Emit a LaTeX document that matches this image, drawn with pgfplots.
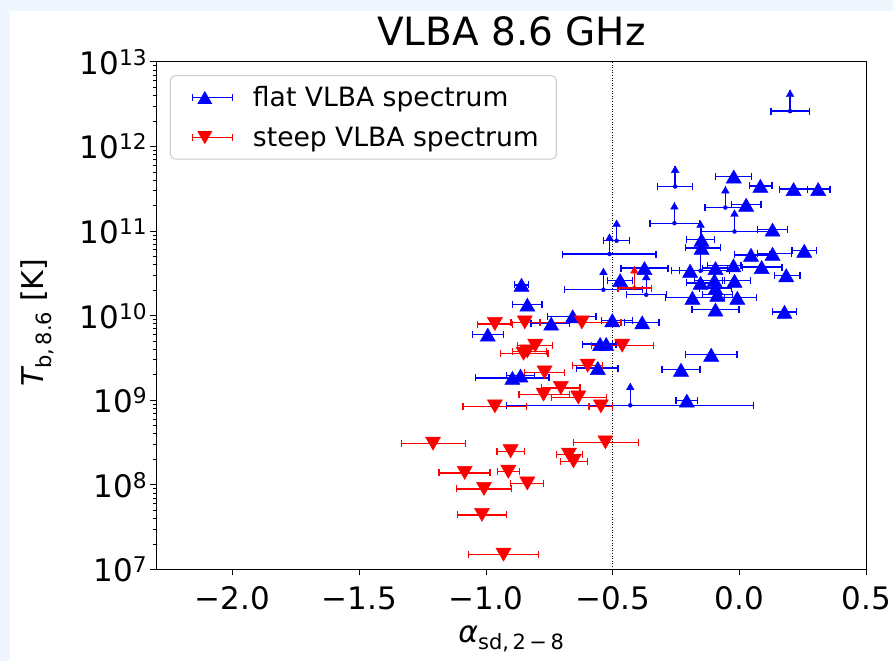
\documentclass[border=0pt]{standalone}
\usepackage{fontspec}
\setmainfont{DejaVu Sans}
\usepackage{pgfplots}
\usepackage{pgfplotstable}
\pgfplotsset{compat=1.18}
\definecolor{bgblue}{RGB}{239,246,253}
\definecolor{legframe}{RGB}{204,204,204}
\definecolor{eblue}{RGB}{0,0,255}
\definecolor{ered}{RGB}{255,0,0}

% flat VLBA spectrum: x, Tb, x-error minus, x-error plus
\pgfplotstableread{
x y m p
-0.023 4.42e11 0.072 0.070
0.082 3.43e11 0.043 0.046
0.213 3.14e11 0.056 0.054
0.310 3.14e11 0.043 0.046
0.026 2.05e11 0.059 0.059
0.130 1.04e11 0.060 0.058
-0.150 7.90e10 0.059 0.051
-0.150 6.35e10 0.063 0.075
0.045 5.25e10 0.066 0.072
0.130 5.40e10 0.060 0.074
0.255 5.86e10 0.048 0.048
-0.375 3.66e10 0.092 0.092
-0.195 3.40e10 0.074 0.084
-0.095 3.66e10 0.051 0.047
-0.024 3.93e10 0.102 0.030
0.087 3.76e10 0.076 0.080
0.184 3.01e10 0.047 0.054
-0.154 2.45e10 0.055 0.055
-0.099 2.63e10 0.079 0.039
-0.020 2.59e10 0.047 0.063
-0.095 2.12e10 0.063 0.063
-0.186 1.63e10 0.106 0.126
-0.088 1.77e10 0.059 0.059
-0.009 1.63e10 0.051 0.075
-0.095 1.18e10 0.092 0.092
0.177 1.11e10 0.047 0.048
-0.384 8.34e9 0.070 0.066
-0.502 8.85e9 0.043 0.080
-0.658 9.82e9 0.099 0.092
-0.743 8.05e9 0.079 0.072
-0.837 1.35e10 0.059 0.058
-0.860 2.32e10 0.028 0.028
-0.993 5.97e9 0.061 0.062
-0.550 4.63e9 0.069 0.063
-0.526 4.63e9 0.025 0.025
-0.559 2.41e9 0.083 0.080
-0.896 1.84e9 0.145 0.144
-0.864 1.96e9 0.056 0.055
-0.112 3.46e9 0.102 0.102
-0.231 2.30e9 0.075 0.075
-0.208 9.91e8 0.042 0.041
-0.471 2.63e10 0.050 0.048
}\flat

% flat spectrum lower limits (base point)
\pgfplotstableread{
x y m p
0.199 2.62e12 0.075 0.076
-0.254 3.37e11 0.070 0.068
-0.056 1.90e11 0.080 0.082
-0.257 1.24e11 0.096 0.099
-0.020 9.90e10 0.131 0.138
-0.485 7.69e10 0.051 0.051
-0.513 5.36e10 0.186 0.184
-0.154 3.40e10 0.083 0.114
-0.537 2.03e10 0.154 0.154
-0.368 1.77e10 0.079 0.079
-0.431 8.73e8 0.489 0.487
}\flatlim

% arrows of the lower limits: base and tip
\pgfplotstableread{
x y
0.199 2.62e12
0.199 4.67e12
nan nan
-0.254 3.37e11
-0.254 5.91e11
nan nan
-0.056 1.90e11
-0.056 3.37e11
nan nan
-0.257 1.24e11
-0.257 2.18e11
nan nan
-0.020 9.90e10
-0.020 1.79e11
nan nan
-0.485 7.69e10
-0.485 1.36e11
nan nan
-0.513 5.36e10
-0.513 9.30e10
nan nan
-0.154 3.40e10
-0.154 1.33e11
nan nan
-0.537 2.03e10
-0.537 3.66e10
nan nan
-0.368 1.77e10
-0.368 3.19e10
nan nan
-0.431 8.73e8
-0.431 1.60e9
}\flatarrow

\pgfplotstableread{
x y
0.199 4.67e12
-0.254 5.91e11
-0.056 3.37e11
-0.257 2.18e11
-0.020 1.79e11
-0.485 1.36e11
-0.513 9.30e10
-0.154 1.33e11
-0.537 3.66e10
-0.368 3.19e10
-0.431 1.60e9
}\flattip

% steep VLBA spectrum
\pgfplotstableread{
x y m p
-0.965 7.98e9 0.069 0.069
-0.847 8.34e9 0.054 0.061
-0.622 8.34e9 0.167 0.155
-0.806 4.43e9 0.069 0.069
-0.837 3.79e9 0.059 0.075
-0.852 3.56e9 0.091 0.096
-0.463 4.43e9 0.120 0.123
-0.769 2.14e9 0.079 0.079
-0.599 2.57e9 0.059 0.059
-0.705 1.40e9 0.077 0.076
-0.773 1.17e9 0.097 0.102
-0.636 1.08e9 0.106 0.110
-0.965 8.49e8 0.126 0.124
-0.547 8.49e8 0.047 0.045
-1.209 3.08e8 0.125 0.128
-0.529 3.19e8 0.126 0.130
-0.903 2.50e8 0.054 0.055
-0.673 2.28e8 0.050 0.053
-0.655 1.90e8 0.051 0.056
-1.084 1.39e8 0.101 0.099
-0.912 1.43e8 0.043 0.045
-0.837 1.04e8 0.066 0.064
-1.008 8.98e7 0.109 0.108
-1.016 4.43e7 0.097 0.096
-0.931 1.50e7 0.138 0.138
}\steep

\pgfplotstableread{
x y m p
-0.415 2.12e10 0.065 0.067
}\steeplim

\pgfplotstableread{
x y
-0.415 2.12e10
-0.415 3.82e10
}\steeparrow

\pgfplotstableread{
x y
-0.415 3.82e10
}\steeptip

\begin{document}
\begin{tikzpicture}
\fill[bgblue] (-156.5bp,-92bp) rectangle (737.5bp,570bp);
\fill[white] (-146.5bp,-92bp) rectangle (737.5bp,559bp);
\begin{axis}[
  scale only axis, width=710.6bp, height=508bp,
  at={(0,0)}, anchor=south west,
  xmin=-2.3, xmax=0.5, ymode=log, ymin=1e7, ymax=1e13,
  xtick={-2,-1.5,-1,-0.5,0,0.5},
  xticklabels={−2.0,−1.5,−1.0,−0.5,0.0,0.5},
  ytick={1e7,1e8,1e9,1e10,1e11,1e12,1e13},
  yticklabels={10\textsuperscript{7},10\textsuperscript{8},10\textsuperscript{9},10\textsuperscript{10},10\textsuperscript{11},10\textsuperscript{12},10\textsuperscript{13}},
  minor ytick={2e7,3e7,4e7,5e7,6e7,7e7,8e7,9e7,
    2e8,3e8,4e8,5e8,6e8,7e8,8e8,9e8,
    2e9,3e9,4e9,5e9,6e9,7e9,8e9,9e9,
    2e10,3e10,4e10,5e10,6e10,7e10,8e10,9e10,
    2e11,3e11,4e11,5e11,6e11,7e11,8e11,9e11,
    2e12,3e12,4e12,5e12,6e12,7e12,8e12,9e12},
  tick align=outside, tick pos=left,
  major tick length=6bp, minor tick length=3.5bp,
  every tick/.style={black, line width=1bp},
  axis line style={line width=1bp},
  ticklabel style={font=\fontsize{31bp}{37bp}\selectfont, inner sep=3bp},
  xticklabel style={yshift=-8bp},
  title={VLBA 8.6 GHz},
  title style={font=\fontsize{39bp}{46bp}\selectfont, at={(axis description cs:0.5,1.049)}, anchor=center},
  xlabel={{\itshape α}\textsubscript{sd,\,2\,−\,8}},
  ylabel={{\itshape T}\textsubscript{b,\,8.6} [K]},
  every axis x label/.style={at={(axis description cs:0.5,-0.1437)}, anchor=base,
    font=\fontsize{30bp}{36bp}\selectfont},
  every axis y label/.style={at={(axis description cs:-0.1675,0.486)}, rotate=90, anchor=center,
    font=\fontsize{30bp}{36bp}\selectfont},
  unbounded coords=jump,
  legend cell align=left,
  legend style={at={(axis description cs:0.019,0.974)}, anchor=north west,
    draw=legframe, line width=1bp, rounded corners=5bp,
    font=\fontsize{26.6bp}{32bp}\selectfont,
    inner xsep=17.5bp, inner ysep=11bp, row sep=19bp,
    nodes={inner sep=0bp},
    /tikz/every odd column/.append style={column sep=20bp}},
]
\addlegendimage{legend image code/.code={
  \path[draw=none] (0bp,-8bp) rectangle (44.5bp,8bp);
  \draw[eblue, rounded corners=0pt, line width=1.4bp] (4.5bp,0bp) -- (44.5bp,0bp);
  \draw[eblue, rounded corners=0pt, line width=1.4bp] (4.5bp,-3.5bp) -- (4.5bp,3.5bp);
  \draw[eblue, rounded corners=0pt, line width=1.4bp] (44.5bp,-3.5bp) -- (44.5bp,3.5bp);
  \fill[blue, draw=none, rounded corners=0pt] (17bp,6.5bp) -- (9.5bp,-6.5bp) -- (24.5bp,-6.5bp) -- cycle;
}}
\addlegendentry{flat VLBA spectrum}
\addlegendimage{legend image code/.code={
  \path[draw=none] (0bp,-8bp) rectangle (44.5bp,8bp);
  \draw[ered, rounded corners=0pt, line width=1.4bp] (4.5bp,0bp) -- (44.5bp,0bp);
  \draw[ered, rounded corners=0pt, line width=1.4bp] (4.5bp,-3.5bp) -- (4.5bp,3.5bp);
  \draw[ered, rounded corners=0pt, line width=1.4bp] (44.5bp,-3.5bp) -- (44.5bp,3.5bp);
  \fill[red, draw=none, rounded corners=0pt] (17bp,-6.5bp) -- (9.5bp,6.5bp) -- (24.5bp,6.5bp) -- cycle;
}}
\addlegendentry{steep VLBA spectrum}

% dotted reference line
\addplot[forget plot, black, line width=0.8bp, dash pattern=on 1bp off 1.6bp] coordinates {(-0.5,1e7) (-0.5,1e13)};

% flat: points with error bars
\addplot[forget plot, blue, only marks, mark=triangle*, mark size=8.7bp,
  mark options={fill=blue, draw=blue, line width=0.5bp, yshift=-2.2bp},
  error bars/.cd, x dir=both, x explicit,
  error bar style={line width=1.4bp, color=eblue},
  error mark options={rotate=90, line width=1.4bp, mark size=3.5bp, color=eblue}]
  table[x=x, y=y, x error minus=m, x error plus=p] {\flat};
% flat: lower limits
\addplot[forget plot, blue, only marks, mark=none,
  error bars/.cd, x dir=both, x explicit,
  error bar style={line width=1.4bp, color=eblue},
  error mark options={rotate=90, line width=1.4bp, mark size=3.5bp, color=eblue}]
  table[x=x, y=y, x error minus=m, x error plus=p] {\flatlim};
\addplot[forget plot, eblue, line width=1.4bp, mark=none] table[x=x, y=y] {\flatarrow};
\addplot[forget plot, blue, only marks, mark=triangle*, mark size=4.5bp,
  mark options={fill=blue, draw=blue, line width=0.3bp, yshift=-4.5bp}] table[x=x, y=y] {\flattip};

% steep: points with error bars
\addplot[forget plot, red, only marks, mark=triangle*, mark size=8.7bp,
  mark options={fill=red, draw=red, line width=0.5bp, rotate=180, yshift=-2.2bp},
  error bars/.cd, x dir=both, x explicit,
  error bar style={line width=1.4bp, color=ered},
  error mark options={rotate=90, line width=1.4bp, mark size=3.5bp, color=ered}]
  table[x=x, y=y, x error minus=m, x error plus=p] {\steep};
\addplot[forget plot, red, only marks, mark=none,
  error bars/.cd, x dir=both, x explicit,
  error bar style={line width=1.4bp, color=ered},
  error mark options={rotate=90, line width=1.4bp, mark size=3.5bp, color=ered}]
  table[x=x, y=y, x error minus=m, x error plus=p] {\steeplim};
\addplot[forget plot, ered, line width=1.4bp, mark=none] table[x=x, y=y] {\steeparrow};
\addplot[forget plot, red, only marks, mark=triangle*, mark size=4.5bp,
  mark options={fill=red, draw=red, line width=0.3bp, yshift=-4.5bp}] table[x=x, y=y] {\steeptip};
\end{axis}
\end{tikzpicture}
\end{document}
